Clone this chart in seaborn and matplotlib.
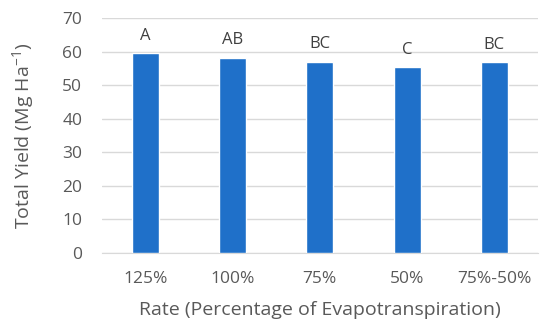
import pandas as pd
import seaborn as sns
import matplotlib.pyplot as plt

# data
rates = ["125%", "100%", "75%", "50%", "75%-50%"]
yields = [59.5, 58.2, 56.9, 55.3, 56.8]
letters = ["A", "AB", "BC", "C", "BC"]

df = pd.DataFrame({"rate": rates, "yield": yields})

sns.set_style("white")
plt.rcParams["font.family"] = ["Open Sans", "DejaVu Sans"]
grey = "#595959"

fig = plt.figure(figsize=(5.5, 3.28), dpi=100)
ax = fig.add_axes([0.185, 0.229, 0.793, 0.716])

sns.barplot(data=df, x="rate", y="yield", color="#1F70C9", saturation=1,
            width=0.31, ax=ax, zorder=3)

# significance letters above bars
for i, (v, lab) in enumerate(zip(yields, letters)):
    ax.annotate(lab, (i, v), xytext=(0, 7), textcoords="offset points",
                ha="center", va="bottom", fontsize=12, color="#404040")

ax.set_ylim(0, 70)
ax.set_xlim(-0.5, 4.5)
ax.set_yticks(range(0, 71, 10))
ax.yaxis.grid(True, color="#D9D9D9", linewidth=1, zorder=0)
for s in ["top", "right", "left"]:
    ax.spines[s].set_visible(False)
ax.spines["bottom"].set_color("#D9D9D9")
ax.tick_params(axis="both", length=0, colors=grey, labelsize=12.5)
ax.tick_params(axis="x", pad=13)
ax.tick_params(axis="y", pad=14)

ax.set_xlabel("Rate (Percentage of Evapotranspiration)", fontsize=14,
              color=grey, labelpad=10)
ax.set_ylabel(r"Total Yield (Mg Ha$^{\mathregular{-1}}$)", fontsize=14,
              color=grey, labelpad=18)

plt.savefig("out.png", dpi=100)
